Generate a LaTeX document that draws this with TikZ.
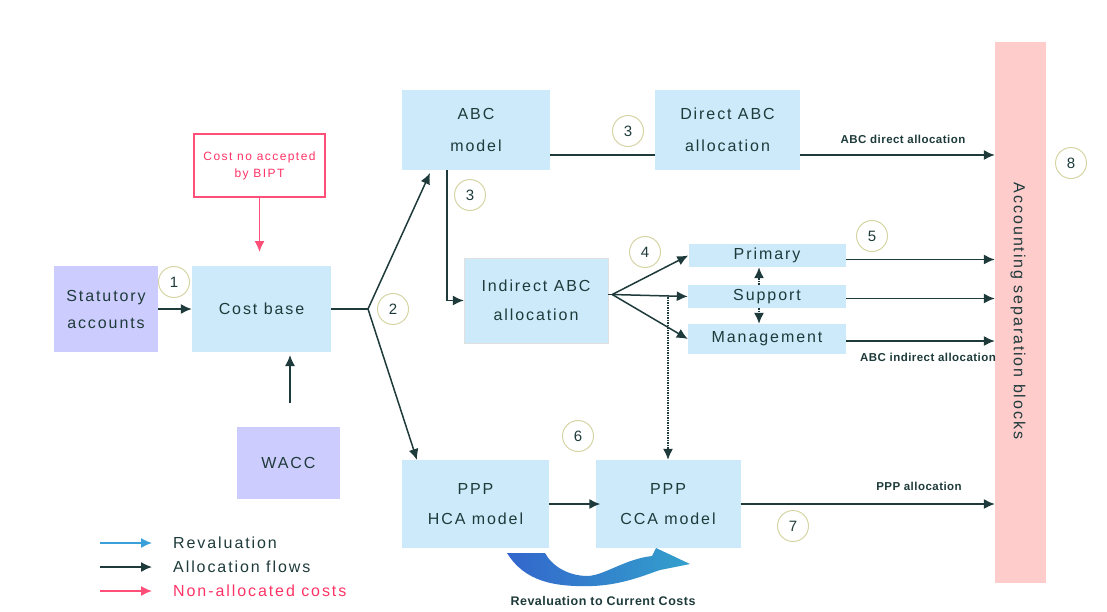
\documentclass[tikz,border=0pt]{standalone}
\usepackage{fontspec}
\setmainfont{Liberation Sans}
\newfontfamily\spaced{Liberation Sans}[LetterSpace=12]
\newfontfamily\spacedb{Liberation Sans}[LetterSpace=4]
\usetikzlibrary{arrows.meta,calc}
\definecolor{boxblue}{HTML}{CCEAFA}
\definecolor{lavc}{HTML}{CCCCFF}
\definecolor{barpink}{HTML}{FFCCCC}
\definecolor{ink}{HTML}{1E3A3A}
\definecolor{rose}{HTML}{FF4F78}
\definecolor{roseText}{HTML}{FF3366}
\definecolor{ringc}{HTML}{D6D4A4}
\definecolor{revL}{HTML}{3366CC}
\definecolor{revR}{HTML}{33A0CC}
\definecolor{legblue}{HTML}{3AA0DA}
\begin{document}
\begin{tikzpicture}[x=1pt,y=-1pt,
  blk/.style={fill=boxblue, inner sep=0pt, align=center, text=ink, font=\spaced\fontsize{16}{30}\selectfont},
  lavbox/.style={blk, fill=lavc},
  num/.style={circle, draw=ringc, line width=1pt, minimum size=31pt, inner sep=0pt, text=ink, font=\fontsize{15}{15}\selectfont},
  tip/.style={-{Latex[length=11pt,width=10pt]}},
  flow/.style={draw=ink, line width=1.5pt, tip},
  plain/.style={draw=ink, line width=1.5pt},
  dotflow/.style={flow, densely dotted},
  lbl/.style={text=ink, font=\spacedb\bfseries\fontsize{11.5}{11.5}\selectfont, inner sep=0pt},
  legtext/.style={anchor=west, inner sep=0pt, font=\spaced\fontsize{16}{16}\selectfont}
]
\useasboundingbox (0,0) rectangle (1107,611);

% boxes
\node[lavbox, minimum width=104pt, minimum height=86pt, font=\spaced\fontsize{16}{27}\selectfont] (stat) at (106,309) {Statutory\\accounts};
\node[blk, minimum width=139pt, minimum height=86pt] (cost) at (261.5,309) {Cost base};
\node[draw=rose, line width=1.3pt, fill=white, minimum width=131pt, minimum height=63pt, inner sep=0pt, align=center, text=roseText, font=\spaced\fontsize{12}{17}\selectfont] (costno) at (259.5,165.5) {Cost no accepted\\by BIPT};
\node[lavbox, minimum width=103pt, minimum height=72pt] (wacc) at (288.5,463) {WACC};
\node[blk, minimum width=148pt, minimum height=80pt, font=\spaced\fontsize{16}{32}\selectfont] (abc) at (476,130) {ABC\\model};
\node[blk, minimum width=145pt, minimum height=80pt, font=\spaced\fontsize{16}{32}\selectfont] (direct) at (727.5,130) {Direct ABC\\allocation};
\node[blk, draw=black!12, minimum width=144pt, minimum height=85pt, font=\spaced\fontsize{16}{29}\selectfont] (indirect) at (536,300.5) {Indirect ABC\\allocation};
\node[blk, minimum width=157pt, minimum height=23pt] (primary) at (767,255.5) {Primary};
\node[blk, minimum width=158pt, minimum height=23pt] (support) at (767,296.5) {Support};
\node[blk, minimum width=158pt, minimum height=30pt] (mgmt) at (767,339) {Management};
\node[blk, minimum width=147pt, minimum height=88pt] (hca) at (475.5,504) {PPP\\HCA model};
\node[blk, minimum width=145pt, minimum height=88pt] (cca) at (668,504) {PPP\\CCA model};
\node[fill=barpink, minimum width=51pt, minimum height=541pt, inner sep=0pt] (bar) at (1020.5,312.5) {};
\node[rotate=-90, text=ink, font=\spaced\fontsize{16}{16}\selectfont, inner sep=0pt] (bartext) at (1018,311) {Accounting separation blocks};

% number circles
\node[num] (n1) at (174,282) {1};
\node[num] (n2) at (393,309) {2};
\node[num] (n3a) at (628,131) {3};
\node[num] (n3b) at (470,195) {3};
\node[num] (n4) at (645,252) {4};
\node[num] (n5) at (872,236) {5};
\node[num] (n6) at (578,436) {6};
\node[num] (n7) at (793,526) {7};
\node[num] (n8) at (1071,163) {8};

% coordinates
\coordinate (branch) at (368,309);
\coordinate (fan) at ($(indirect.east)+(4,-6)$);
\coordinate (d1) at ($(direct.east)+(0,25)$);
\coordinate (a1) at ($(abc.east)+(0,25)$);
\coordinate (w1) at ($(direct.west)+(0,25)$);
\coordinate (p1) at ($(primary.east)+(0,4)$);
\coordinate (s1) at ($(support.east)+(0,2)$);
\coordinate (m1) at ($(mgmt.east)+(0,2)$);
\coordinate (rose1) at (259.5,252);
\coordinate (w2) at (290,403);
\coordinate (w3) at (290,355);
\coordinate (abcin) at (430,173);
\coordinate (hcain) at (417,460);
\coordinate (abcdown) at (447,170);

% flows
\draw[flow] (stat.east) -- (cost.west);
\draw[draw=rose, line width=1.5pt, tip] (costno.south) -- (rose1);
\draw[flow] (w2) -- (w3);
\draw[plain] (cost.east) -- (branch);
\draw[flow] (branch) -- (abcin);
\draw[flow] (branch) -- (hcain);
\draw[plain] (a1) -- (w1);
\draw[flow] (d1) -- (d1 -| bar.west);
\draw[flow] (abcdown) |- (indirect.west);
\draw[plain] (indirect.east |- fan) -- (fan);
\draw[flow] (fan) -- (primary.west);
\draw[flow] (fan) -- (support.west);
\draw[flow] (fan) -- (mgmt.west);
\draw[dotflow] ($(support.north)+(-8,0)$) -- ($(primary.south)+(-8,0)$);
\draw[dotflow] ($(support.south)+(-8,0)$) -- ($(mgmt.north)+(-8,0)$);
\draw[dotflow] (cca.north |- fan) -- (cca.north);
\draw[flow] (p1) -- (p1 -| bar.west);
\draw[flow] (s1) -- (s1 -| bar.west);
\draw[flow] (m1) -- (m1 -| bar.west);
\draw[flow] (hca.east) -- ($(cca.west)+(5,0)$);
\draw[flow] (cca.east) -- (cca.east -| bar.west);

% flow labels
\node[lbl] (l1) at (903,139) {ABC direct allocation};
\node[lbl] (l2) at (928,357) {ABC indirect allocation};
\node[lbl] (l3) at (919,486) {PPP allocation};

% revaluation arrow
\shade[left color=revL, right color=revR] (507,553) .. controls (525,582) and (555,587) .. (592,586) .. controls (622,585) and (645,575) .. (660,570) -- (690,564) -- (656,548) -- (652,556) .. controls (625,559) and (605,575) .. (588,576) .. controls (568,576) and (552,566) .. (545,553) -- cycle;
\node[lbl, font=\spacedb\bfseries\fontsize{12.5}{12.5}\selectfont] (revlbl) at (603,601) {Revaluation to Current Costs};

% legend
\coordinate (g1a) at (100,543); \coordinate (g1b) at (152,543);
\coordinate (g2a) at (100,567); \coordinate (g2b) at (152,567);
\coordinate (g3a) at (100,591); \coordinate (g3b) at (152,591);
\draw[draw=legblue, line width=1.5pt, tip] (g1a) -- (g1b);
\draw[flow] (g2a) -- (g2b);
\draw[draw=rose, line width=1.5pt, tip] (g3a) -- (g3b);
\node[legtext, text=ink] (t1) at (173,543) {Revaluation};
\node[legtext, text=ink] (t2) at (173,567) {Allocation flows};
\node[legtext, text=roseText] (t3) at (173,591) {Non-allocated costs};
\end{tikzpicture}
\end{document}
